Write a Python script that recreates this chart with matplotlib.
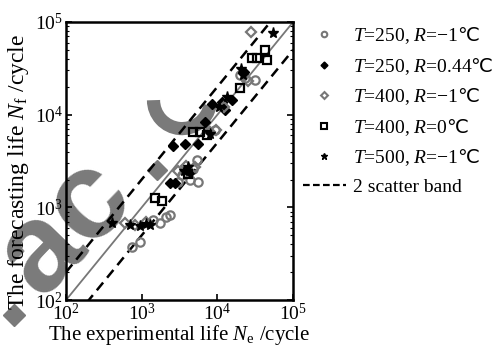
import matplotlib
matplotlib.use('Agg')
from matplotlib import pyplot as plt
from matplotlib.lines import Line2D
from matplotlib.patches import Arc
import numpy as np

plt.rcParams['font.family'] = ['Liberation Serif', 'DejaVu Serif']
plt.rcParams['mathtext.fontset'] = 'custom'
plt.rcParams['mathtext.rm'] = 'Liberation Serif'
plt.rcParams['mathtext.it'] = 'Liberation Serif:italic'
plt.rcParams['mathtext.sf'] = 'Noto Sans CJK SC'

# experimental life (x) and forecasting life (y), cycles
circ_x = [745, 950, 1410, 1745, 2090, 2370, 4350, 5540, 5380, 3390, 23200, 31400, 19950, 9290, 3000, 4800]
circ_y = [373, 423, 730, 678, 785, 826, 1970, 1875, 3240, 2240, 24800, 23600, 26900, 6820, 1900, 2600]
bdia_x = [2590, 3730, 5550, 2370, 2755, 8490, 11500, 15600, 22400, 6860, 4300, 12500]
bdia_y = [4580, 4820, 4820, 1830, 1830, 13000, 13700, 14400, 28800, 8320, 2400, 11200]
gdia_x = [603, 813, 1150, 27800, 7950, 9500, 3000, 3800, 12300, 25000, 5000]
gdia_y = [678, 645, 700, 77800, 6460, 6900, 2500, 2800, 12200, 23000, 2700]
sq_x = [1500, 1860, 4790, 5880, 28600, 33300, 42600, 45200, 19900, 7200, 4100]
sq_y = [1260, 1170, 6460, 6460, 40800, 40800, 49800, 38800, 19400, 6000, 2300]
star_x = [405, 950, 1290, 700, 1150, 54200, 22000, 20500, 10500, 13500, 4100, 3600, 8000]
star_y = [678, 630, 648, 640, 660, 76000, 27000, 31000, 12000, 15500, 2700, 2500, 6200]

deg = r'$\mathsf{℃}$'
labels = [r'$T$=250, $R$=$-$1' + deg, r'$T$=250, $R$=0.44' + deg, r'$T$=400, $R$=$-$1' + deg,
          r'$T$=400, $R$=0' + deg, r'$T$=500, $R$=$-$1' + deg, '2 scatter band']

band = np.array([1e2, 1e5])

fig = plt.figure(figsize=(4.96, 3.49), dpi=100)
ax = fig.add_axes([0.133, 0.140, 0.458, 0.797])
ax.patch.set_alpha(0)
ax.set_xscale('log')
ax.set_yscale('log')
ax.set_xlim(1e2, 1e5)
ax.set_ylim(1e2, 1e5)

ax.plot(band, band, color='#777777', lw=1.3)
ax.plot(band, band * 2, 'k--', lw=1.8, dashes=(4, 2.5))
ax.plot(band, band / 2, 'k--', lw=1.8, dashes=(4, 2.5))

ax.plot(circ_x, circ_y, 'o', ms=6, mfc='none', mec='#777777', mew=1.6)
ax.plot(bdia_x, bdia_y, 'D', ms=5, color='black')
ax.plot(gdia_x, gdia_y, 'D', ms=5, mfc='none', mec='#777777', mew=1.6)
ax.plot(sq_x, sq_y, 's', ms=6, mfc='none', mec='black', mew=1.6)
ax.plot(star_x, star_y, '*', ms=8, color='black')

for s in ax.spines.values():
    s.set_linewidth(1.8)
ax.tick_params(which='both', direction='in', top=False, right=True, labelsize=14)
ax.tick_params(which='major', length=4, width=1.2)
ax.tick_params(which='minor', length=2.5, width=0.8)
ax.set_xticks([1e2, 1e3, 1e4, 1e5])
ax.set_yticks([1e2, 1e3, 1e4, 1e5])
ax.xaxis.set_tick_params(pad=2)
ax.yaxis.set_tick_params(pad=2)
ax.set_xlabel(r'The experimental life $N_{\rm e}$ /cycle', fontsize=15, labelpad=-1)
ax.set_ylabel(r'The forecasting life $N_{\rm f}$ /cycle', fontsize=17, labelpad=0)
ax.yaxis.set_label_coords(-0.155, 0.46)

handles = [
    Line2D([], [], ls='none', marker='o', ms=4, mfc='none', mec='#777777', mew=1.5),
    Line2D([], [], ls='none', marker='D', ms=3.5, color='black'),
    Line2D([], [], ls='none', marker='D', ms=3.5, mfc='none', mec='#777777', mew=1.5),
    Line2D([], [], ls='none', marker='s', ms=4, mfc='none', mec='black', mew=1.5),
    Line2D([], [], ls='none', marker='*', ms=5, color='black'),
    Line2D([], [], color='black', ls='--', lw=1.6, dashes=(3, 1.5)),
]
fig.legend(handles, labels, loc='upper left', bbox_to_anchor=(0.595, 0.95),
           frameon=False, fontsize=14, handlelength=2.2, handletextpad=0.4,
           labelspacing=0.5, borderaxespad=0)

# watermark, drawn beneath the axes content
wm = '#7a7a7a'
fig.text(0.132, 0.35, 'ac', rotation=46, fontsize=90, color=wm, weight='bold',
         family='Liberation Sans', ha='center', va='center',
         rotation_mode='anchor', zorder=-1)
fig.add_artist(Arc((0.367, 0.713), 0.115, 0.163, theta1=180, theta2=345,
                   lw=9.5, color=wm, transform=fig.transFigure, zorder=-1))
fig.add_artist(Line2D([0.317], [0.513], marker='D', ms=10, color=wm, ls='none',
                      transform=fig.transFigure, zorder=-1))
fig.add_artist(Line2D([0.028], [0.098], marker='D', ms=11, color=wm, ls='none',
                      transform=fig.transFigure, zorder=-1))

fig.savefig('out.png', dpi=100)
